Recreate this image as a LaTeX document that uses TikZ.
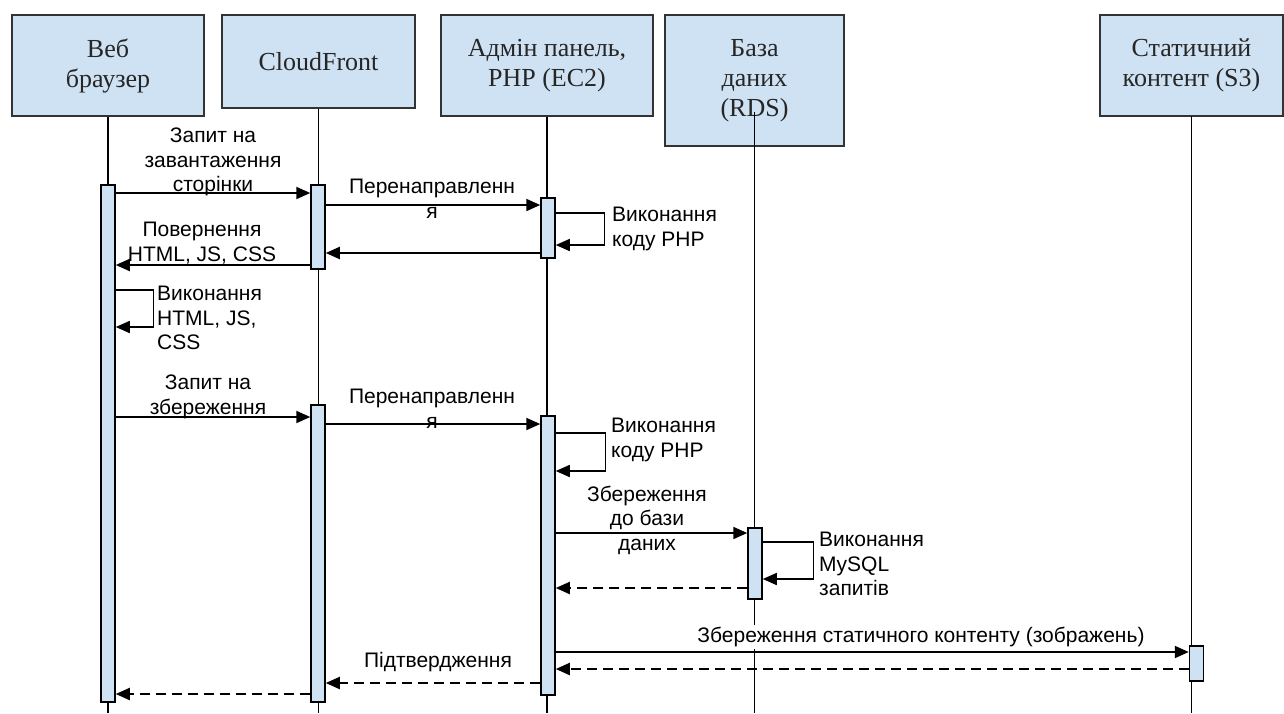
\documentclass[tikz,border=0pt]{standalone}
\usepackage{fontspec}
\setmainfont{Liberation Sans}
\newfontfamily\headfont{Liberation Serif}
\usepackage{xcolor}
\usetikzlibrary{positioning,arrows.meta}
\definecolor{headblue}{RGB}{207,226,243}

\begin{document}
\begin{tikzpicture}[x=1pt, y=-1pt,
    every node/.style={font=\fontsize{21}{24.5}\selectfont},
    head/.style={draw=black!80, line width=2pt, fill=headblue, align=center, inner sep=0pt,
                 font=\headfont\fontsize{26}{30}\selectfont, text=black!85},
    act/.style={draw=black, line width=1.5pt, fill=headblue, minimum width=14pt, inner sep=0pt},
    life/.style={line width=1.6pt},
    msg/.style={-{Triangle[length=14pt,width=12pt]}, line width=2pt},
    ret/.style={msg, dash pattern=on 10pt off 6pt},
    selfmsg/.style={-{Triangle[length=14pt,width=12pt]}, line width=1.4pt},
    lbl/.style={align=center, inner sep=0pt},
    slbl/.style={align=left, inner sep=0pt, anchor=west},
]
\useasboundingbox (0,0) rectangle (1284,713);
\node[head, minimum width=192pt, minimum height=101pt] (web) at (108,65.5)    {Веб\\браузер};
\node[head, minimum width=193pt, minimum height=93pt]  (cf)  at (318.5,61.5)  {CloudFront};
\node[head, minimum width=212pt, minimum height=101pt] (php) at (547,65.5)    {Адмін панель,\\PHP (EC2)};
\node[head, minimum width=179pt, minimum height=131pt] (db)  at (754.5,80.5)  {База\\даних\\(RDS)};
\node[head, minimum width=183pt, minimum height=101pt] (s3)  at (1191.5,65.5) {Статичний\\контент (S3)};
\draw[life] (web.south) -- (web.south |- 0,713); \draw[life] (cf.south) -- (cf.south |- 0,713);
\draw[life] (php.south) -- (php.south |- 0,713); \draw[life] (db.center |- 0,112) -- (db.center |- 0,713);
\draw[life] (s3.south |- 0,116) -- (s3.south |- 0,713);
\node[act, minimum height=517pt] (aweb) at (108,443.5) {};
\node[act, minimum height=84pt]  (acf1) at (318,227) {};
\node[act, minimum height=60pt]  (aphp1) at (548,228) {};
\node[act, minimum height=297pt] (acf2) at (318,553.5) {};
\node[act, minimum height=279pt] (aphp2) at (548,555.5) {};
\node[act, minimum height=71pt]  (adb) at (755,563.5) {};
\node[act, minimum height=35pt]  (as3) at (1196.5,663.5) {};
\draw[msg] (aweb.east |- 0,193) -- (acf1.west |- 0,193);
\draw[msg] (acf1.east |- 0,205) -- (aphp1.west |- 0,205);
\draw[msg] (aphp1.west |- 0,253) -- (acf1.east |- 0,253);
\draw[msg] (acf1.west |- 0,265) -- (aweb.east |- 0,265);
\draw[selfmsg] (aphp1.east |- 0,213) -- ++(49,0) |- (aphp1.east |- 0,245);
\draw[selfmsg] (aweb.east |- 0,290) -- ++(38,0) |- (aweb.east |- 0,327);
\draw[msg] (aweb.east |- 0,417) -- (acf2.west |- 0,417);
\draw[msg] (acf2.east |- 0,424) -- (aphp2.west |- 0,424);
\draw[selfmsg] (aphp2.east |- 0,433) -- ++(50,0) |- (aphp2.east |- 0,471);
\draw[msg] (aphp2.east |- 0,533) -- (adb.west |- 0,533);
\draw[selfmsg] (adb.east |- 0,542) -- ++(51,0) |- (adb.east |- 0,579);
\draw[ret] (adb.west |- 0,588) -- (aphp2.east |- 0,588);
\draw[msg] (aphp2.east |- 0,652) -- (as3.west |- 0,652);
\draw[ret] (as3.west |- 0,669) -- (aphp2.east |- 0,669);
\draw[ret] (aphp2.west |- 0,683) -- (acf2.east |- 0,683);
\draw[ret] (acf2.west |- 0,694) -- (aweb.east |- 0,694);
\node[lbl] (l1) at (213,162) {Запит на\\завантаження\\сторінки};
\node[lbl] (l2) at (202,243) {Повернення\\HTML, JS, CSS};
\node[lbl] (l3) at (432,199) {Перенаправленн\\я};
\node[slbl] (l4) at (612,229) {Виконання\\коду PHP};
\node[slbl] (l5) at (157,318) {Виконання\\HTML, JS,\\CSS};
\node[lbl] (l6) at (208,397) {Запит на\\збереження};
\node[lbl] (l7) at (432,409) {Перенаправленн\\я};
\node[slbl] (l8) at (611,440) {Виконання\\коду PHP};
\node[lbl] (l9) at (647,520) {Збереження\\до бази\\даних};
\node[slbl] (l10) at (819,564) {Виконання\\MySQL\\запитів};
\node[lbl, fill=white, inner ysep=2pt] (l11) at (921,637) {Збереження статичного контенту (зображень)};
\node[lbl] (l12) at (438,662) {Підтвердження};
\end{tikzpicture}
\end{document}
